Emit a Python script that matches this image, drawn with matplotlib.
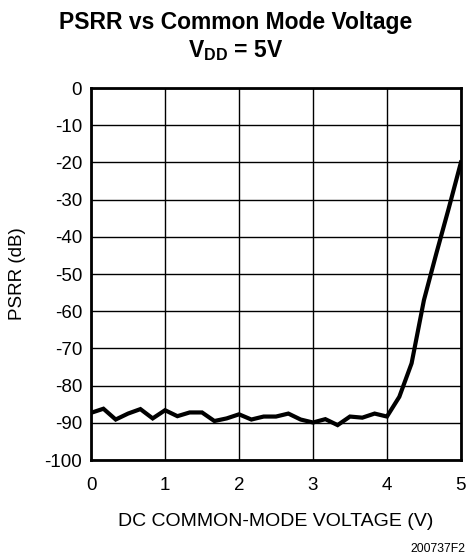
import numpy as np
import matplotlib
matplotlib.use("Agg")
import matplotlib.pyplot as plt

plt.rcParams['font.family'] = ['Liberation Sans', 'DejaVu Sans']
plt.rcParams['mathtext.fontset'] = 'custom'
plt.rcParams['mathtext.rm'] = 'Liberation Sans'
plt.rcParams['mathtext.bf'] = 'Liberation Sans:bold'
plt.rcParams['axes.unicode_minus'] = False

# data
vcm = [0.0, 0.167, 0.333, 0.5, 0.667, 0.833, 1.0, 1.167, 1.333, 1.5,
       1.667, 1.833, 2.0, 2.167, 2.333, 2.5, 2.667, 2.833, 3.0, 3.167,
       3.333, 3.5, 3.667, 3.833, 4.0, 4.167, 4.333, 4.5, 4.667, 4.833, 5.0]
psrr = [-87.3, -86.2, -89.1, -87.5, -86.3, -88.8, -86.6, -88.2, -87.2, -87.2,
        -89.5, -88.8, -87.7, -89.1, -88.3, -88.3, -87.5, -89.1, -89.9, -89.0,
        -90.6, -88.3, -88.6, -87.5, -88.3, -83.0, -74.0, -57.0, -44.5, -32.5, -20.0]
xticks = [0, 1, 2, 3, 4, 5]
yticks = list(range(0, -101, -10))

fig = plt.figure(figsize=(4.67, 5.57), dpi=100)
ax = fig.add_axes([0.195, 0.174, 0.792, 0.668])

ax.plot(vcm, psrr, color='black', lw=3.0, solid_joinstyle='miter')

ax.set_xlim(0, 5)
ax.set_ylim(-100, 0)
ax.set_xticks(xticks)
ax.set_yticks(yticks)
ax.grid(True, color='black', lw=1.0)
ax.tick_params(length=0, labelsize=13.5, pad=6.5)
ax.tick_params(axis='x', pad=12)
for s in ax.spines.values():
    s.set_linewidth(2)

ax.set_xlabel('DC COMMON-MODE VOLTAGE (V)', fontsize=14, labelpad=14)
ax.set_ylabel('PSRR (dB)', fontsize=13.5, labelpad=13)

fig.text(0.505, 0.96, 'PSRR vs Common Mode Voltage', ha='center', va='center',
         fontsize=16.5, fontweight='bold')
fig.text(0.505, 0.91, r'V$_{\mathbf{DD}}$ = 5V', ha='center', va='center',
         fontsize=16.5, fontweight='bold')
fig.text(0.997, 0.015, '200737F2', ha='right', va='center', fontsize=8.8)

plt.savefig('out.png', dpi=100)
